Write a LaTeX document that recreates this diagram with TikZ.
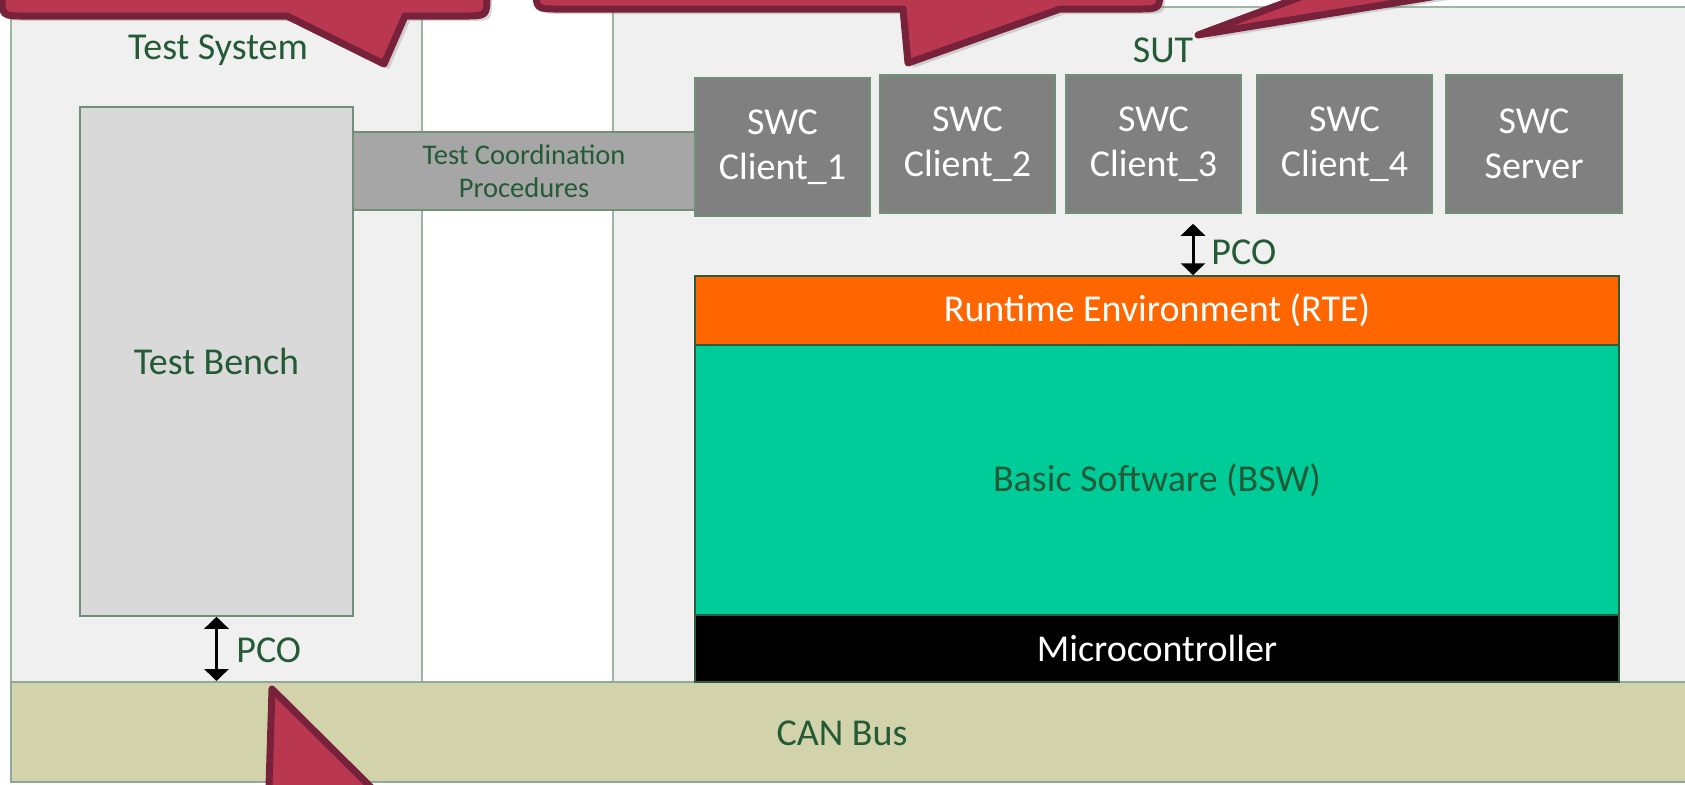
\documentclass[tikz,border=0pt]{standalone}
\usepackage{fontspec}
\setmainfont{Carlito}
\usetikzlibrary{arrows.meta,shadows}
\definecolor{tgreen}{HTML}{245A36}
\definecolor{panelfill}{HTML}{F0F0F0}
\definecolor{panelline}{HTML}{9DB5A2}
\definecolor{boxline}{HTML}{6F8F78}
\definecolor{layerline}{HTML}{2F5A3C}
\definecolor{benchfill}{HTML}{D9D9D9}
\definecolor{tcpfill}{HTML}{A6A6A6}
\definecolor{swcfill}{HTML}{808080}
\definecolor{rtefill}{HTML}{FF6600}
\definecolor{bswfill}{HTML}{00CC99}
\definecolor{canfill}{HTML}{D3D3AB}
\definecolor{canline}{HTML}{8FA897}
\definecolor{calfill}{HTML}{B9384F}
\definecolor{calline}{HTML}{77213A}
\newcommand{\mainfs}{\fontsize{19}{22.5}\selectfont}
\newcommand{\smallfs}{\fontsize{14.25}{16.7}\selectfont}
\begin{document}
\begin{tikzpicture}[x=0.5pt,y=-0.5pt,
  panel/.style={draw=panelline, fill=panelfill, line width=1pt, inner sep=0pt},
  box/.style={inner sep=0pt, line width=0.75pt, align=center, font=\mainfs},
  swc/.style={box, fill=swcfill, draw=boxline, text=white, minimum width=87.5pt, minimum height=69pt},
  lbl/.style={inner sep=0pt, text=tgreen, font=\mainfs},
  pco/.style={line width=1.5pt, {Triangle[width=12pt,length=6pt]}-{Triangle[width=12pt,length=6pt]}},
  calbox/.style={fill=calfill, draw=calline, line width=3.5pt, line join=round,
    drop shadow={opacity=0.3, shadow xshift=2.5pt, shadow yshift=-2.5pt}}]
\useasboundingbox (0,0) rectangle (1685,784);
\begin{scope}
\clip (0,0) rectangle (1685,784);
\fill[white] (0,0) rectangle (1685,784);
% panels
\node[panel, minimum width=205.5pt, minimum height=337.5pt] (ts) at (216.5,344.5) {};
\node[panel, minimum width=543.5pt, minimum height=337.5pt] (sut) at (1156.5,344.5) {};
\node[lbl] (tslbl) at (218,50) {Test System};
\node[lbl] (sutlbl) at (1163,50) {SUT};
% CAN bus
\node[fill=canfill, draw=canline, line width=1pt, inner sep=0pt, minimum width=844.5pt, minimum height=50pt] (can) at (855.5,732) {};
\node[lbl] (canlbl) at (842,733) {CAN Bus};
% test system side
\node[box, fill=benchfill, draw=boxline, text=tgreen, minimum width=136.5pt, minimum height=254.5pt] (tb) at (216.5,361.5) {Test Bench};
\node[box, fill=tcpfill, draw=boxline, text=tgreen, font=\smallfs, minimum width=171pt, minimum height=39pt] (tcp) at (524,171) {Test Coordination\\Procedures};
% SWCs
\node[swc] (c1) at (782.5,147) {SWC\\Client\_1};
\node[swc] (c2) at (967.5,144) {SWC\\Client\_2};
\node[swc] (c3) at (1153.5,144) {SWC\\Client\_3};
\node[swc] (c4) at (1344.5,144) {SWC\\Client\_4};
\node[swc, minimum width=88pt] (srv) at (1534,144) {SWC\\Server};
% layers
\node[box, fill=rtefill, draw=layerline, text=white, minimum width=462pt, minimum height=34.5pt] (rte) at (1157,310.5) {Runtime Environment (RTE)};
\node[box, fill=bswfill, draw=layerline, text=tgreen, minimum width=462pt, minimum height=135pt] (bsw) at (1157,480) {Basic Software (BSW)};
\node[box, fill=black, draw=layerline, text=white, minimum width=462pt, minimum height=33.5pt] (mc) at (1157,648.5) {Microcontroller};
% PCO arrows
\coordinate (pcox) at (1193,0);
\draw[pco, shorten <=5pt] (c3.south -| pcox) -- (rte.north -| pcox);
\node[lbl, anchor=west] (pco2) at (1211,252) {PCO};
\draw[pco] (tb.south) -- (tb.south |- can.north);
\node[lbl, anchor=west] (pco1) at (236,650) {PCO};
% callouts
\draw[calbox] (2,-100) -- (2,-6) .. controls (2,16) .. (24,16) -- (287,16) -- (384,64) -- (405,16) -- (465,16) .. controls (487,16) .. (487,-6) -- (487,-100) -- cycle;
\draw[calbox] (536,-100) -- (536,-13) .. controls (536,9) .. (558,9) -- (903,9) -- (908,63) -- (1060,9) -- (1138,9) .. controls (1160,9) .. (1160,-13) -- (1160,-100) -- cycle;
\draw[calbox] (1198,35) -- (1467,-65) -- (1812,-65) -- cycle;
\draw[calbox] (272,689) -- (268,820) -- (404,820) -- cycle;
\end{scope}
\end{tikzpicture}
\end{document}
